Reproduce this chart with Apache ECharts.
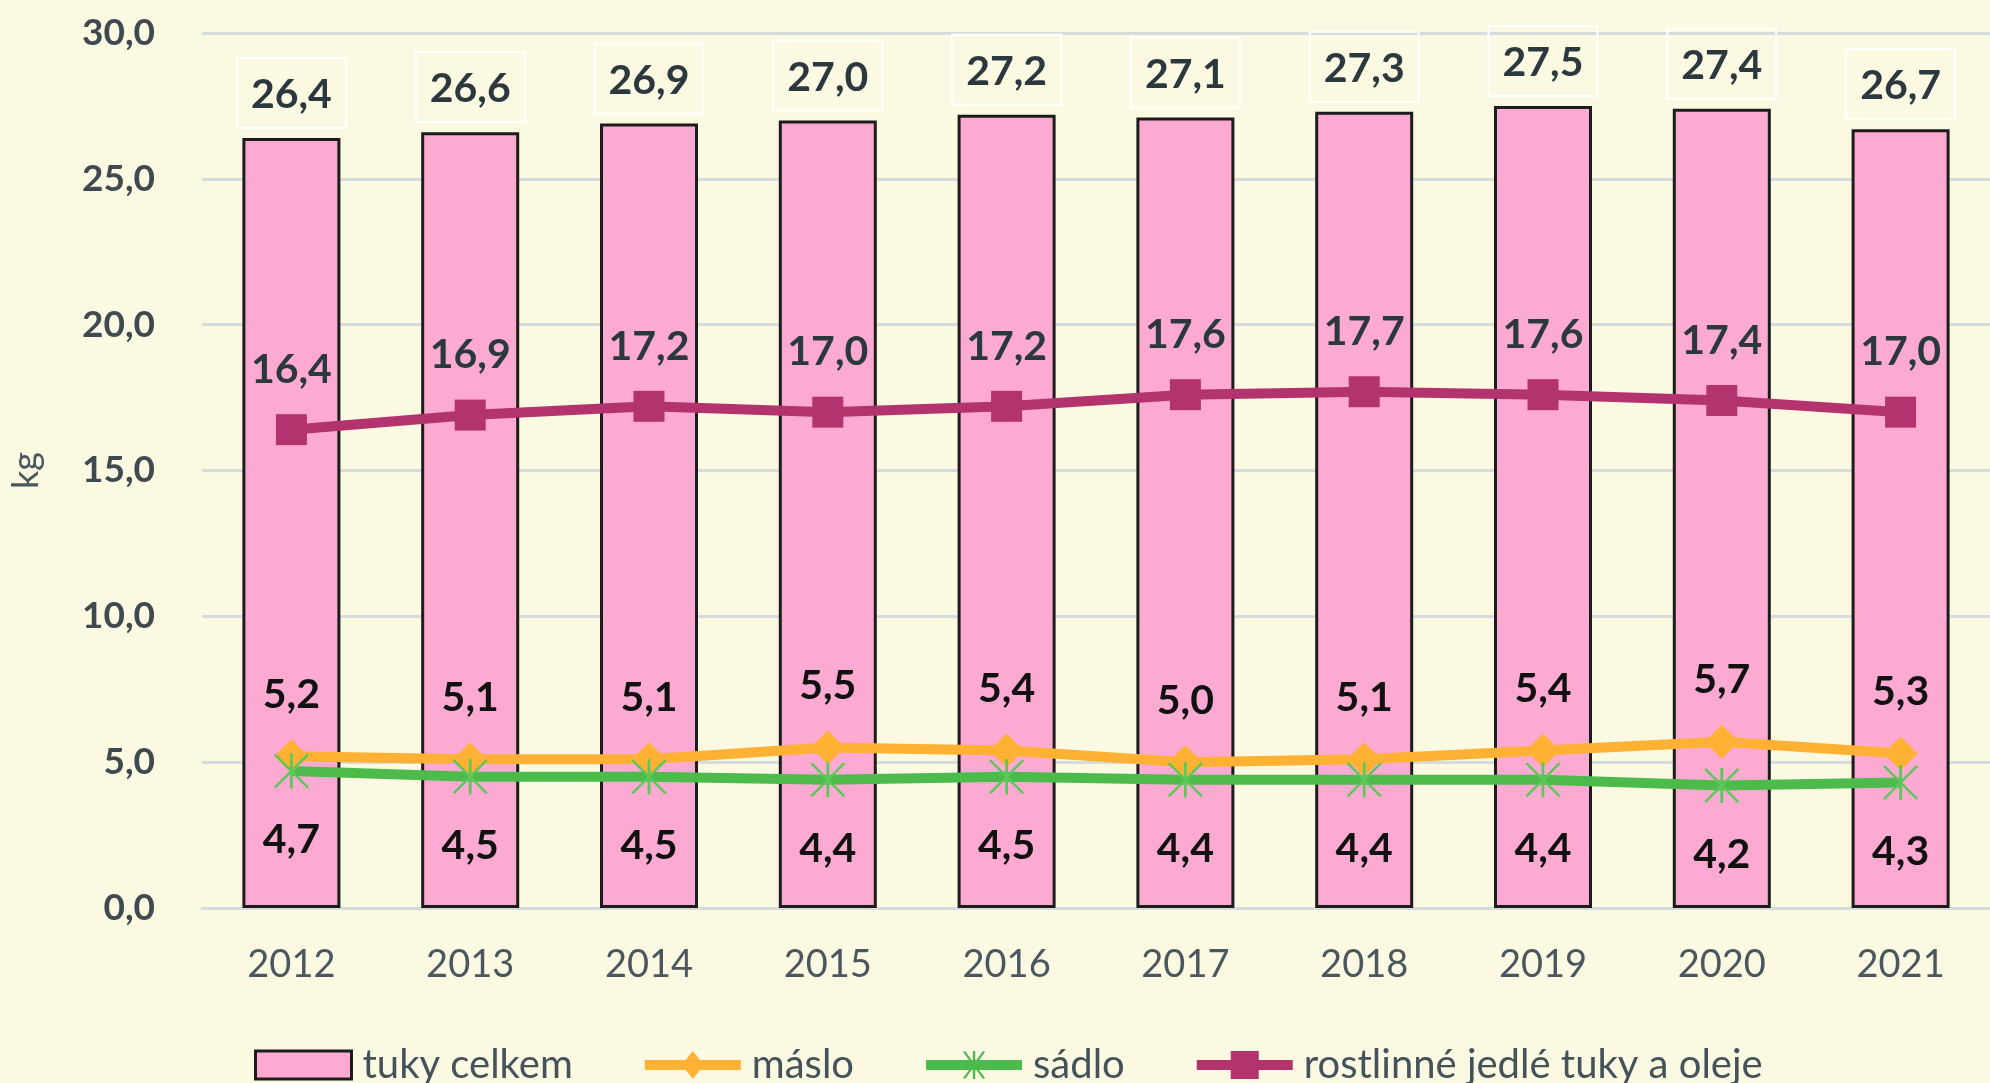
<!DOCTYPE html>
<html>
<head>
<meta charset="utf-8">
<script src="https://cdn.jsdelivr.net/npm/echarts@6/dist/echarts.min.js"></script>
<style>
  html, body { margin: 0; padding: 0; background: #fcf9e2; }
  #chart { width: 1990px; height: 1083px; }
</style>
</head>
<body>
<div id="chart"></div>
<script>
const years = ['2012', '2013', '2014', '2015', '2016', '2017', '2018', '2019', '2020', '2021']
const tukyCelkem = [26.4, 26.6, 26.9, 27.0, 27.2, 27.1, 27.3, 27.5, 27.4, 26.7]
const maslo = [5.2, 5.1, 5.1, 5.5, 5.4, 5.0, 5.1, 5.4, 5.7, 5.3]
const sadlo = [4.7, 4.5, 4.5, 4.4, 4.5, 4.4, 4.4, 4.4, 4.2, 4.3]
const rostlinne = [16.4, 16.9, 17.2, 17.0, 17.2, 17.6, 17.7, 17.6, 17.4, 17.0]

const font = 'Lato, "Open Sans", sans-serif'
const fmt = (v) => Number(v).toFixed(1).replace('.', ',')

// Excel-like asterisk marker (X plus vertical bar), built as filled strips
const starPath = 'path://M46,0L54,0L54,100L46,100Z M0,5L5,0L100,95L95,100Z M95,0L100,5L5,100L0,95Z'

// legend icons: thick line with marker in the middle, drawn in a 96x28 box
const legBar = 'M0,9L96,9L96,19L0,19Z'
const legDiamond = 'path://' + legBar + ' M48,0L59,14L48,28L37,14Z'
const legStar = 'path://' + legBar + ' M46.8,0L49.2,0L49.2,28L46.8,28Z M37,1L39,0L59,27L57,28Z M57,0L59,1L39,28L37,27Z'
const legSquare = 'path://' + legBar + ' M34,0L62,0L62,28L34,28Z'

const chart = echarts.init(document.getElementById('chart'))

const dataLabel = (color) => ({
  show: true,
  formatter: (p) => fmt(p.value),
  fontFamily: font,
  fontSize: 41,
  fontWeight: 'bold',
  color
})

chart.setOption({
  backgroundColor: '#fcf9e2',
  textStyle: { fontFamily: font },
  animation: false,
  grid: { left: 197, right: -7, top: 33, bottom: 175 },
  legend: {
    left: 249,
    top: 1040,
    itemWidth: 96,
    itemHeight: 28,
    itemGap: 72,
    textStyle: { fontFamily: font, fontSize: 40, color: '#44525a', padding: [0, 0, 0, 6] },
    data: [
      { name: 'tuky celkem', icon: 'rect', itemStyle: { color: '#fcaad2', borderColor: '#1c1c1c', borderWidth: 3 } },
      { name: 'máslo', icon: legDiamond, itemStyle: { color: '#ffb133', borderWidth: 0 } },
      { name: 'sádlo', icon: legStar, itemStyle: { color: '#4cbb4c', borderWidth: 0 } },
      { name: 'rostlinné jedlé tuky a oleje', icon: legSquare, itemStyle: { color: '#b3336e', borderWidth: 0 } }
    ]
  },
  xAxis: {
    type: 'category',
    data: years,
    axisTick: { show: false },
    axisLine: { lineStyle: { color: '#d6dcdc', width: 3 } },
    axisLabel: { fontFamily: font, fontSize: 38, color: '#4a575e', margin: 38 }
  },
  yAxis: {
    type: 'value',
    min: 0,
    max: 30,
    interval: 5,
    name: 'kg',
    nameLocation: 'middle',
    nameGap: 158,
    nameTextStyle: { fontFamily: font, fontSize: 36, color: '#4a575e' },
    axisLabel: {
      fontFamily: font,
      fontSize: 37,
      fontWeight: 'bold',
      color: '#3e4a50',
      margin: 47,
      formatter: fmt
    },
    splitLine: { lineStyle: { color: '#d6dcdc', width: 3 } }
  },
  series: [
    {
      name: 'tuky celkem',
      type: 'bar',
      data: tukyCelkem,
      barWidth: 98,
      itemStyle: { color: '#fcaad2', borderColor: '#1c1c1c', borderWidth: 3 },
      label: Object.assign(dataLabel('#2b393f'), {
        position: 'top',
        distance: 10,
        borderColor: '#ffffff',
        borderWidth: 2,
        padding: [16, 14, 12, 14],
        lineHeight: 42
      }),
      z: 1
    },
    {
      name: 'máslo',
      type: 'line',
      data: maslo,
      symbol: 'diamond',
      symbolSize: 34,
      lineStyle: { color: '#ffb133', width: 10 },
      itemStyle: { color: '#ffb133' },
      label: Object.assign(dataLabel('#111111'), { position: 'top', distance: 24 }),
      z: 3
    },
    {
      name: 'sádlo',
      type: 'line',
      data: sadlo,
      symbol: starPath,
      symbolSize: 35,
      lineStyle: { color: '#4cbb4c', width: 10 },
      itemStyle: { color: '#5cc85c' },
      label: Object.assign(dataLabel('#111111'), { position: 'bottom', distance: 31 }),
      z: 3
    },
    {
      name: 'rostlinné jedlé tuky a oleje',
      type: 'line',
      data: rostlinne,
      symbol: 'rect',
      symbolSize: 31,
      lineStyle: { color: '#b3336e', width: 10 },
      itemStyle: { color: '#b3336e' },
      label: Object.assign(dataLabel('#2b393f'), { position: 'top', distance: 24 }),
      z: 3
    }
  ]
})
</script>
</body>
</html>
